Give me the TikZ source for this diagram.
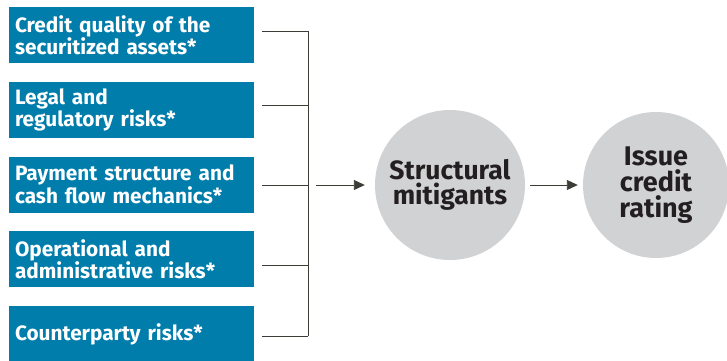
\documentclass[tikz,border=0pt]{standalone}
\usepackage{fontspec}
\setmainfont{Fira Sans}
\usetikzlibrary{arrows.meta}
\definecolor{boxblue}{RGB}{0,125,170}
\definecolor{circgray}{RGB}{209,210,212}
\definecolor{linegray}{RGB}{60,60,55}
\definecolor{darktext}{RGB}{35,31,32}
\tikzset{
  riskbox/.style={fill=boxblue, text=white, minimum width=245pt, minimum height=56pt,
    inner sep=0pt, text width=233pt, align=left,
    font=\bfseries\fontsize{20.8}{21}\selectfont},
  bigcirc/.style={circle, fill=circgray, text=darktext, inner sep=0pt, align=center},
  conn/.style={draw=linegray, line width=0.9pt},
  arr/.style={conn, -{Triangle[length=11pt,width=10pt]}}
}
\begin{document}
\begin{tikzpicture}[x=1pt,y=-1pt]
\useasboundingbox (0,0) rectangle (727,360);
\node[riskbox] (b1) at (131.5,35) {Credit quality of the\\securitized assets*};
\node[riskbox] (b2) at (131.5,110) {Legal and\\regulatory risks*};
\node[riskbox] (b3) at (131.5,184.5) {Payment structure and\\cash flow mechanics*};
\node[riskbox] (b4) at (131.5,259) {Operational and\\administrative risks*};
\node[riskbox] (b5) at (131.5,334) {Counterparty risks*};
\node[bigcirc, minimum size=150pt, font=\bfseries\fontsize{26.5}{25}\selectfont] (c1) at (450,185) {Structural\\mitigants};
\node[bigcirc, minimum size=146pt, font=\bfseries\fontsize{27}{26}\selectfont] (c2) at (656,185) {Issue\\credit\\rating};
\coordinate (j1) at (308,31);
\coordinate (j2) at (308,105);
\coordinate (j3) at (308,185);
\coordinate (j4) at (308,265);
\coordinate (j5) at (308,336);
\draw[conn] ([xshift=8pt]b1.east |- j1) -- (j1);
\draw[conn] ([xshift=8pt]b2.east |- j2) -- (j2);
\draw[conn] ([xshift=8pt]b3.east |- j3) -- (j3);
\draw[conn] ([xshift=8pt]b4.east |- j4) -- (j4);
\draw[conn] ([xshift=8pt]b5.east |- j5) -- (j5);
\draw[conn] (j1) -- (j5);
\draw[arr, shorten <=8pt, shorten >=10pt] (j3) -- (c1.west);
\draw[arr, shorten <=5pt, shorten >=5pt] (c1.east) -- (c2.west);
\end{tikzpicture}
\end{document}
